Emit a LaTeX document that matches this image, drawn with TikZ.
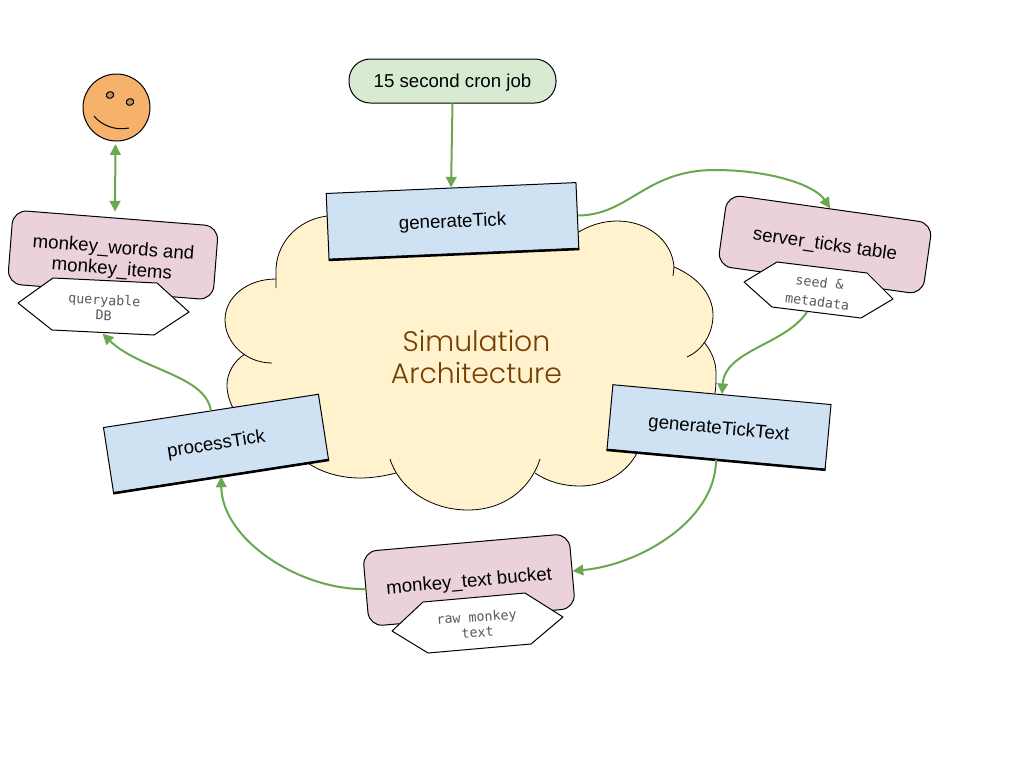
\documentclass[tikz,border=0pt]{standalone}
\usepackage{fontspec}
\setmainfont{Liberation Sans}
\newfontfamily\hexfont{DejaVu Sans Mono}
\newfontfamily\titlefont[UprightFont=* Light]{Poppins}
\usetikzlibrary{arrows.meta}
\definecolor{cblue}{HTML}{CFE2F3}
\definecolor{cpink}{HTML}{EAD1DC}
\definecolor{cyellow}{HTML}{FFF2CC}
\definecolor{cgreen}{HTML}{D9EAD3}
\definecolor{corange}{HTML}{F6B26B}
\definecolor{ceye}{HTML}{C58E55}
\definecolor{cline}{HTML}{6AA84F}
\definecolor{cbrown}{HTML}{783F04}
\definecolor{cgrey}{HTML}{595959}
\def\upx{0.75pt}
\newcommand\dropped[2]{\raisebox{-#1}[0pt][0pt]{#2}}
\tikzset{
  x=0.75pt,y=-0.75pt,
  ink/.style={draw=black,line width=0.75pt},
  cloudline/.style={draw=black,line width=0.6pt},
  cloudfill/.style={fill=cyellow},
  fn/.style={ink,fill=cblue,inner sep=0pt,align=center,font=\fontsize{14}{16}\selectfont},
  store/.style={ink,fill=cpink,rounded corners=10.5pt,inner sep=0pt,align=center,font=\fontsize{14}{16}\selectfont},
  hexshape/.style={ink,fill=white,line join=round},
  hexlabel/.style={inner sep=0pt,align=center,text=cgrey,font=\hexfont\fontsize{10}{11.6}\selectfont},
  flow/.style={draw=cline,line width=1.5pt,-{Triangle[length=8pt,width=8pt]}},
  shadowedge/.style={draw=black,line width=1.9pt},
}
\begin{document}
\begin{tikzpicture}
\useasboundingbox[fill=white] (0,0) rectangle (1024,768);

% cloud fill
\fill[cloudfill] (327,216) -- (276,279) -- (245,354) -- (233,408) -- (308,463) -- (396,473) -- (468,500) -- (540,470) -- (637,453) -- (715,393) -- (704,342) -- (674,267) -- (577,233) -- cycle;
\fill[cloudfill] (340,225) -- (300,240) -- (279,282) -- (250,320) -- (248,354) -- (235,385) -- (240,420) -- (310,460) -- (340,470) -- (396,468) -- (468,500) -- (535,468) -- (580,480) -- (630,455) -- (700,390) -- (700,342) -- (700,315) -- (670,270) -- (640,240) -- (577,240) -- (500,230) -- cycle;
\fill[cloudfill] (327,216) .. controls (296,220) and (275,245) .. (276,273) -- (276,288) -- cycle;
\fill[cloudfill] (276,279) .. controls (247,279) and (225,297) .. (225,320) .. controls (225,342) and (245,363) .. (272,363) -- cycle;
\fill[cloudfill] (245,354) .. controls (234,361) and (227,373) .. (227,385) .. controls (227,393) and (229,400) .. (233,408) -- cycle;
\fill[cloudfill] (308,463) .. controls (322,473) and (342,478) .. (360,478) .. controls (372,478) and (385,476) .. (396,473) -- cycle;
\fill[cloudfill] (390,459) .. controls (400,490) and (432,510) .. (468,510) .. controls (503,510) and (530,490) .. (540,459) -- cycle;
\fill[cloudfill] (535,473) .. controls (548,482) and (564,486) .. (580,486) .. controls (606,486) and (627,472) .. (637,453) -- cycle;
\fill[cloudfill] (704,342) .. controls (712,352) and (716,362) .. (716,373) .. controls (716,380) and (716,388) .. (715,393) -- cycle;
\fill[cloudfill] (674,267) .. controls (698,277) and (713,295) .. (713,315) .. controls (713,333) and (703,350) .. (687,357) -- cycle;
\fill[cloudfill] (577,233) .. controls (588,226) and (602,221) .. (617,221) .. controls (647,221) and (672,240) .. (674,267) -- cycle;
% cloud outline
\draw[cloudline] (327,216) .. controls (296,220) and (275,245) .. (276,273) -- (276,288);
\draw[cloudline] (276,279) .. controls (247,279) and (225,297) .. (225,320) .. controls (225,342) and (245,363) .. (272,363);
\draw[cloudline] (245,354) .. controls (234,361) and (227,373) .. (227,385) .. controls (227,393) and (229,400) .. (233,408);
\draw[cloudline] (308,463) .. controls (322,473) and (342,478) .. (360,478) .. controls (372,478) and (385,476) .. (396,473);
\draw[cloudline] (390,459) .. controls (400,490) and (432,510) .. (468,510) .. controls (503,510) and (530,490) .. (540,459);
\draw[cloudline] (535,473) .. controls (548,482) and (564,486) .. (580,486) .. controls (606,486) and (627,472) .. (637,453);
\draw[cloudline] (704,342) .. controls (712,352) and (716,362) .. (716,373) .. controls (716,380) and (716,388) .. (715,393);
\draw[cloudline] (674,267) .. controls (698,277) and (713,295) .. (713,315) .. controls (713,333) and (703,350) .. (687,357);
\draw[cloudline] (577,233) .. controls (588,226) and (602,221) .. (617,221) .. controls (647,221) and (672,240) .. (674,267) -- (673,276);
\node[inner sep=0pt,align=center,text=cbrown,font=\titlefont\fontsize{21.2}{23.5}\selectfont] (title) at (476.5,357) {Simulation\\Architecture};

% stores
\node[store,minimum width=206*\upx,minimum height=74*\upx,rotate=-4.5] (words) at (113,255) {\dropped{14.8pt}{\begin{tabular}[b]{@{}c@{}}monkey\_words and\\monkey\_items\end{tabular}}};
\node[store,minimum width=207*\upx,minimum height=72*\upx,rotate=-8] (ticks) at (825,244.5) {\dropped{4.2pt}{server\_ticks table}};
\node[store,minimum width=207*\upx,minimum height=75*\upx,rotate=5] (bucket) at (469,580) {\dropped{5.2pt}{monkey\_text bucket}};

% hexagons
\draw[hexshape] (18,303) -- (53,278) -- (157,283) -- (189,312) -- (154,335) -- (52,330) -- cycle;
\node[hexlabel,minimum width=170*\upx,minimum height=52*\upx,rotate=-3] (hexq) at (104,307.5) {queryable\\DB};
\draw[hexshape] (744,282) -- (777,262) -- (867,273) -- (893,299) -- (861,318) -- (772,307) -- cycle;
\node[hexlabel,font=\hexfont\fontsize{10}{15}\selectfont,minimum width=148*\upx,minimum height=46*\upx,rotate=-7] (hexs) at (818.5,292) {seed \&\\metadata};
\draw[hexshape] (392,631) -- (423,602) -- (525,593) -- (563,617) -- (531,644) -- (428,653) -- cycle;
\node[hexlabel,minimum width=170*\upx,minimum height=52*\upx,rotate=4] (hexr) at (477,624.5) {raw monkey\\text};
\coordinate (seedout) at (807,312);

% functions
\node[fn,minimum width=250*\upx,minimum height=66*\upx,rotate=2.5] (gen) at (452.5,221) {\dropped{4.9pt}{generateTick}};
\draw[shadowedge] (gen.south west) -- (gen.south east);
\node[fn,minimum width=219*\upx,minimum height=65*\upx,rotate=-5.2] (gentext) at (719,427) {\dropped{5.2pt}{generateTickText}};
\draw[shadowedge] (gentext.south west) -- (gentext.south east);
\node[fn,minimum width=217.5*\upx,minimum height=66*\upx,rotate=8.8] (proc) at (216,443.5) {\dropped{4.7pt}{processTick}};
\draw[shadowedge] (proc.south west) -- (proc.south east);

% cron and smiley
\node[ink,fill=cgreen,rounded corners=16pt,minimum width=207*\upx,minimum height=44*\upx,inner sep=0pt,font=\fontsize{14}{16}\selectfont] (cron) at (452.5,81) {\dropped{5.2pt}{15 second cron job}};
\node[ink,circle,fill=corange,minimum size=67*\upx,inner sep=0pt] (smile) at (116.5,107.5) {};
\draw[ink,fill=ceye,rotate around={20:(110,95)}] (110,95) ellipse (3.8 and 3.3);
\draw[ink,fill=ceye,rotate around={20:(130,102)}] (130,102) ellipse (3.8 and 3.3);
\draw[ink] (94,116) .. controls (101,125) and (115,131) .. (129,128);

% connectors
\draw[flow] (cron.south) -- (gen.north);
\draw[flow] (gen.east) .. controls (630,215) and (645,170) .. (715,170) .. controls (770,170) and (815,185) .. (ticks.north);
\draw[flow] (seedout) .. controls (785,345) and (725,350) .. (gentext.north);
\draw[flow] (gentext.south) .. controls (716,520) and (640,565) .. (bucket.east);
\draw[flow] (bucket.west) .. controls (300,590) and (222,540) .. (proc.south);
\draw[flow] (proc.north) .. controls (205,375) and (140,370) .. (hexq.south);
\draw[draw=cline,line width=1.5pt,{Triangle[length=8pt,width=8pt]}-{Triangle[length=8pt,width=8pt]},shorten <=2pt,shorten >=4.5pt] ([xshift=-0.75pt]smile.south) -- ([xshift=-0.75pt]words.north);
\end{tikzpicture}
\end{document}
